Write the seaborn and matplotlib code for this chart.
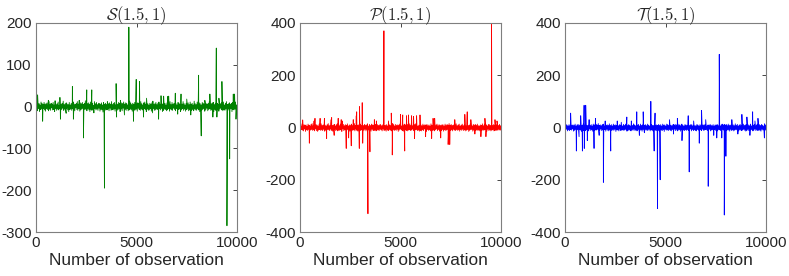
import numpy as np
import pandas as pd
import matplotlib
matplotlib.use('Agg')
import matplotlib.pyplot as plt
import seaborn as sns

# ---- data (observation index, value) ----
N_OBS = 10000

# S(1.5, 1): background band, large spikes, smaller spikes
s_noise = [6, -8, 4, -10, 9, -5, 7, -12, 3, -7, 11, -6, 8, -9, 5, -4, 10, -8, 6, -11,
           7, -5, 9, -7, 4, -10, 12, -6, 5, -9, 8, -3, 6, -8, 10, -7, 4, -12, 9, -5,
           5, -9, 7, -6, 11, -8, 3, -5, 9, -10, 6, -7, 8, -4, 13, -9, 5, -6, 7, -11,
           9, -4, 6, -8, 5, -12, 10, -7, 4, -6, 8, -9, 7, -5, 11, -8, 6, -10, 5, -3,
           8, -7, 12, -9, 6, -5, 4, -11, 9, -8, 7, -6, 10, -4, 5, -9, 8, -7, 14, -6,
           4, -10, 7, -5, 9, -8, 6, -12, 11, -7, 5, -9, 8, -6, 3, -10, 12, -5, 7, -8,
           10, -6, 5, -9, 8, -4, 7, -11, 6, -7, 9, -8, 4, -13, 10, -5, 6, -9, 8, -7,
           5, -8, 11, -6, 7, -10, 9, -4, 6, -9, 12, -7, 5, -8, 8, -6, 10, -11, 4, -5,
           7, -9, 6, -7, 10, -5, 8, -12, 5, -6, 9, -10, 7, -4, 11, -8, 6, -7, 9, -9,
           8, -5, 4, -10, 7, -8, 13, -6, 9, -7, 5, -11, 8, -5, 6, -9, 10, -8, 7, -6,
           6, -11, 9, -4, 8, -7, 5, -9, 12, -6, 7, -8, 4, -10, 9, -5, 11, -7, 6, -12,
           10, -6, 7, -9, 4, -8, 8, -5, 6, -11, 9, -7, 13, -4, 5, -9, 7, -8, 10, -6,
           5, -7, 8, -10, 11, -5, 6, -8, 9, -4, 7, -12, 5, -9, 10, -6, 8, -7, 4, -10,
           9, -8, 6, -5, 7, -11, 12, -6, 5, -8, 10, -9, 6, -4, 8, -7, 11, -10, 7, -5,
           4, -9, 10, -7, 8, -6, 5, -12, 9, -8, 6, -5, 12, -9, 7, -6, 4, -11, 8, -7,
           7, -6, 9, -10, 5, -8, 11, -4, 6, -9, 8, -7, 4, -10, 13, -6, 7, -8, 5, -9,
           11, -5, 6, -8, 9, -12, 7, -6, 4, -9, 10, -7, 8, -5, 6, -11, 9, -8, 7, -4,
           6, -10, 8, -7, 12, -5, 4, -9, 7, -8, 9, -6, 10, -12, 5, -7, 8, -9, 6, -5,
           8, -7, 5, -11, 10, -6, 7, -4, 9, -8, 6, -10, 11, -7, 4, -9, 8, -6, 12, -8,
           5, -9, 7, -6, 9, -10, 6, -5, 8, -12, 10, -7, 5, -8, 7, -6, 11, -9, 4, -7]
s_spike_x = [80, 330, 615, 1190, 1215, 1810, 1860, 2360, 2525, 2775, 3405, 3985, 4010,
             4620, 4850, 4985, 5150, 5350, 6100, 6350, 6600, 8090, 8220, 8650, 8970,
             9000, 9250, 9500, 9635, 9880, 9950]
s_spike_y = [28, -35, 15, 22, -30, 48, -30, -75, 40, 40, -195, 55, -25,
             190, -35, 65, 60, -25, -30, 25, 25, 75, -70, 30, 140,
             -25, 60, -285, -125, 30, -30]
s_minor_x = [950, 1500, 2150, 2880, 3550, 4200, 4400, 5500, 5800, 6220, 6550, 6930,
             7050, 7215, 7500, 7700, 8400, 8800, 9100, 9815]
s_minor_y = [14, -16, 15, -15, 12, 15, -20, 20, -15, 26, 24, 32,
             -18, 30, 18, -20, 15, -25, 20, 30]

# P(1.5, 1)
p_noise = [9, -12, 6, -8, 14, -10, 7, -13, 11, -6, 8, -15, 10, -9, 5, -11, 13, -7, 9, -14,
           6, -10, 12, -8, 15, -11, 7, -9, 10, -13, 8, -6, 11, -12, 9, -15, 6, -10, 13, -8,
           7, -11, 14, -9, 8, -12, 10, -7, 12, -14, 9, -10, 6, -13, 11, -8, 15, -9, 7, -12,
           10, -6, 13, -11, 8, -14, 9, -10, 12, -7, 6, -12, 11, -9, 14, -13, 8, -10, 7, -11,
           13, -8, 9, -15, 10, -6, 12, -12, 7, -9, 11, -13, 8, -10, 14, -7, 6, -11, 10, -14,
           9, -8, 13, -12, 7, -10, 11, -9, 15, -13, 8, -6, 12, -11, 9, -14, 10, -8, 6, -12,
           13, -10, 7, -9, 11, -15, 8, -11, 12, -7, 9, -13, 10, -8, 14, -12, 6, -10, 11, -9,
           8, -14, 13, -7, 10, -11, 9, -12, 7, -8, 12, -13, 6, -10, 11, -9, 8, -12, 10, -7,
           12, -9, 7, -13, 10, -6, 14, -11, 8, -10, 9, -14, 11, -7, 6, -12, 13, -9, 10, -8,
           7, -13, 9, -10, 15, -8, 11, -12, 6, -9, 12, -11, 8, -7, 10, -15, 9, -10, 13, -6,
           11, -8, 6, -12, 9, -14, 10, -7, 13, -9, 8, -11, 7, -13, 12, -10, 6, -8, 14, -12,
           8, -10, 12, -6, 7, -11, 9, -13, 11, -9, 15, -7, 10, -12, 6, -10, 9, -14, 8, -11,
           10, -13, 7, -9, 13, -12, 8, -6, 11, -10, 9, -15, 12, -8, 7, -11, 10, -9, 6, -13,
           14, -7, 9, -11, 6, -10, 12, -13, 8, -9, 10, -6, 13, -12, 7, -8, 11, -14, 9, -10,
           7, -12, 11, -8, 10, -14, 6, -9, 13, -11, 8, -10, 12, -7, 9, -13, 15, -9, 8, -12,
           12, -9, 8, -13, 9, -7, 11, -10, 6, -12, 14, -8, 7, -11, 10, -9, 13, -14, 6, -8,
           9, -11, 13, -7, 7, -12, 10, -9, 12, -13, 6, -10, 11, -8, 8, -15, 9, -11, 14, -7,
           10, -8, 6, -14, 12, -10, 9, -7, 11, -12, 8, -9, 13, -11, 7, -10, 6, -13, 10, -9,
           8, -12, 14, -9, 7, -11, 13, -8, 9, -10, 10, -14, 6, -7, 12, -12, 11, -9, 8, -13,
           13, -10, 7, -8, 11, -13, 9, -12, 6, -9, 10, -11, 14, -7, 8, -10, 12, -9, 7, -11]
p_spike_x = [465, 700, 1215, 1550, 2050, 2300, 2420, 2550, 2650, 2800, 2960, 3095, 3120,
             3380, 3480, 3700, 4175, 4540, 4590, 5000, 5210, 5300, 5550, 5800, 6700,
             7000, 7370, 7450, 8200, 8320, 8700, 9530, 9800]
p_spike_y = [-60, 25, 35, 30, 30, -80, -40, -70, 30, 45, 80, 95, -60,
             -330, -93, 30, 370, 55, -105, 50, -90, 45, 45, 45, 35,
             -40, -65, -65, 50, 60, -25, 395, 25]
p_minor_x = [133, 745, 1000, 1325, 1575, 1700, 1900, 2100, 2820, 2950, 3800, 4400,
             5110, 5400, 5650, 5700, 5970, 6250, 6550, 6620, 7700, 8500, 9000, 9200,
             9250, 9700]
p_minor_y = [29, 35, 35, -42, 38, -30, 35, 25, 60, -80, 25, 25,
             48, 48, 42, -42, 48, -35, -42, 35, 30, 30, -35, 35,
             -35, 30]

# T(1.5, 1)
t_noise = [8, -10, 12, -7, 9, -13, 6, -9, 11, -12, 7, -8, 14, -10, 9, -6, 10, -14, 8, -11,
           13, -7, 6, -12, 10, -9, 12, -13, 7, -8, 11, -10, 9, -15, 8, -7, 13, -11, 6, -9,
           10, -12, 14, -8, 7, -10, 9, -13, 12, -6, 8, -11, 11, -9, 6, -14, 13, -8, 10, -12,
           7, -9, 12, -10, 9, -7, 15, -13, 8, -11, 10, -6, 7, -12, 11, -9, 13, -10, 6, -8,
           12, -14, 9, -7, 10, -11, 8, -13, 14, -9, 7, -10, 11, -12, 6, -8, 13, -11, 9, -7,
           10, -15, 8, -9, 12, -10, 7, -13, 11, -6, 9, -12, 14, -8, 6, -10, 12, -11, 8, -9,
           13, -7, 10, -14, 7, -12, 11, -9, 9, -10, 6, -13, 12, -8, 8, -11, 14, -7, 10, -12,
           7, -9, 11, -13, 9, -8, 12, -10, 6, -11, 13, -9, 8, -14, 10, -7, 11, -12, 9, -10,
           11, -8, 7, -12, 13, -10, 9, -7, 6, -13, 10, -9, 12, -11, 8, -14, 7, -8, 14, -10,
           9, -12, 10, -6, 8, -11, 12, -13, 7, -9, 11, -10, 6, -12, 13, -8, 9, -15, 10, -7,
           6, -10, 13, -9, 11, -12, 8, -7, 14, -11, 9, -13, 7, -8, 10, -10, 12, -6, 8, -12,
           12, -7, 9, -13, 6, -10, 11, -8, 10, -14, 7, -9, 13, -11, 8, -10, 6, -12, 11, -9,
           10, -11, 8, -9, 14, -12, 7, -10, 9, -6, 12, -13, 10, -8, 6, -11, 13, -9, 7, -12,
           7, -13, 12, -8, 9, -10, 6, -14, 11, -9, 8, -12, 14, -7, 10, -11, 9, -10, 12, -8,
           13, -9, 6, -11, 10, -12, 8, -7, 12, -13, 9, -10, 7, -9, 11, -14, 6, -8, 10, -11,
           9, -10, 11, -13, 7, -8, 14, -9, 6, -12, 10, -11, 13, -7, 8, -10, 12, -12, 9, -6,
           11, -12, 7, -9, 13, -10, 9, -14, 8, -7, 12, -11, 6, -9, 10, -13, 7, -10, 14, -8,
           8, -9, 12, -11, 6, -13, 10, -8, 11, -10, 7, -12, 9, -9, 13, -7, 8, -11, 10, -14,
           12, -11, 9, -7, 10, -12, 7, -10, 13, -9, 6, -8, 11, -13, 9, -10, 12, -6, 8, -12,
           10, -8, 13, -12, 7, -9, 11, -11, 8, -14, 12, -7, 9, -10, 6, -12, 14, -9, 10, -11]
t_spike_x = [280, 565, 780, 865, 950, 960, 1030, 1110, 1445, 1520, 1910, 2275, 2600,
             3075, 3570, 3890, 4270, 4435, 4480, 4600, 4735, 5590, 5820, 6130, 6180,
             6680, 6795, 7125, 7675, 7800, 7925, 8005, 9050, 9335, 9600, 9920]
t_spike_y = [55, -90, 45, -90, 85, -80, 85, -50, -80, 35, -210, -90, 25,
             40, 60, 60, 100, -90, 55, -310, -200, 35, -50, 45, -170,
             -60, 65, -225, 280, -40, -335, -110, 40, 60, 35, -40]
t_minor_x = [700, 1200, 1700, 2000, 2800, 3300, 3700, 3950, 5200, 5400, 6400, 7000,
             7400, 7550, 8300, 8600, 8800, 9200, 9450]
t_minor_y = [-35, 30, -30, 25, 20, 25, -30, -20, 30, -25, 25, 30,
             -30, -40, 30, -25, 50, -30, 25]

titles = [r'$\mathcal{S}(1.5,1)$', r'$\mathcal{P}(1.5,1)$', r'$\mathcal{T}(1.5,1)$']
colors = ['#008000', '#ff0000', '#0000ff']
ylims = [(-300, 200), (-400, 400), (-400, 400)]
yticks = [[-300, -200, -100, 0, 100, 200], [-400, -200, 0, 200, 400], [-400, -200, 0, 200, 400]]
xticks = [0, 5000, 10000]


def build_series(noise, spike_x, spike_y, minor_x, minor_y):
    x = np.concatenate([np.linspace(0, N_OBS, len(noise)),
                        np.asarray(spike_x, float), np.asarray(minor_x, float)])
    y = np.concatenate([np.asarray(noise, float),
                        np.asarray(spike_y, float), np.asarray(minor_y, float)])
    order = np.argsort(x, kind='stable')
    return pd.DataFrame({'obs': x[order], 'value': y[order]})


series = [build_series(s_noise, s_spike_x, s_spike_y, s_minor_x, s_minor_y),
          build_series(p_noise, p_spike_x, p_spike_y, p_minor_x, p_minor_y),
          build_series(t_noise, t_spike_x, t_spike_y, t_minor_x, t_minor_y)]

sns.set_style('white')
plt.rcParams['font.family'] = ['Liberation Sans', 'DejaVu Sans']
plt.rcParams['mathtext.fontset'] = 'cm'

fig = plt.figure(figsize=(7.89, 2.76), dpi=100)
lefts = [36 / 789, 300 / 789, 565 / 789]
for i in range(3):
    ax = fig.add_axes([lefts[i], 44 / 276, 201 / 789, 209 / 276])
    sns.lineplot(data=series[i], x='obs', y='value', ax=ax, color=colors[i],
                 lw=0.6, estimator=None, sort=False)
    ax.set_xlim(0, N_OBS)
    ax.set_ylim(*ylims[i])
    ax.set_xticks(xticks)
    ax.set_yticks(yticks[i])
    ax.set_xticklabels([str(t) for t in xticks])
    ax.set_yticklabels([str(t) for t in yticks[i]])
    ax.set_xlabel('Number of observation', fontsize=12.4, color='#262626', labelpad=2)
    ax.set_ylabel('')
    ax.set_title(titles[i], fontsize=12, pad=2)
    ax.tick_params(direction='in', length=3, width=0.6, colors='#262626',
                   labelsize=11, top=True, right=True, pad=3)
    for sp in ax.spines.values():
        sp.set_visible(True)
        sp.set_color('#7f7f7f')
        sp.set_linewidth(0.8)

fig.savefig('out.png', dpi=100)
plt.close(fig)
